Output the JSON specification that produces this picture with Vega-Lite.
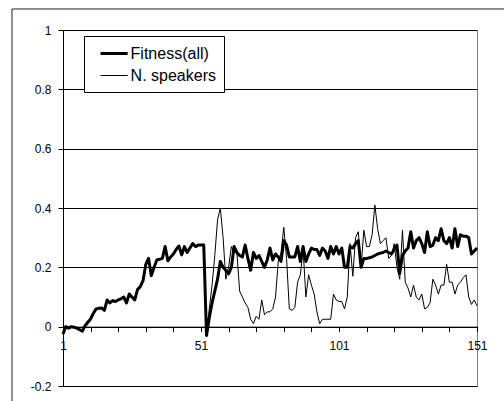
{
  "$schema": "https://vega.github.io/schema/vega-lite/v6.json",
  "width": 414,
  "height": 356,
  "autosize": "none",
  "padding": {"left": 63, "top": 30, "right": 27, "bottom": 15},
  "background": "white",
  "config": {"view": {"stroke": "#808080", "strokeWidth": 1}, "font": "Liberation Sans"},
  "resolve": {"axis": {"x": "independent"}},
  "layer": [
    {
      "data": {"values": [{}]},
      "mark": {"type": "rule", "clip": false, "color": "#222", "strokeWidth": 1},
      "encoding": {
        "y": {"datum": 1.0708, "type": "quantitative", "scale": {"domain": [-0.2, 1], "nice": false, "zero": false}},
        "x": {
          "datum": -17.48, "type": "quantitative",
          "scale": {"domain": [1, 151], "nice": false, "zero": false},
          "axis": {
            "orient": "bottom", "offset": -59.33,
            "values": [11, 21, 31, 41, 61, 71, 81, 91, 111, 121, 131, 141],
            "labels": false, "domain": false, "grid": false,
            "tickSize": 5, "tickColor": "black", "title": null
          }
        },
        "x2": {"datum": 162}
      }
    },
    {
      "data": {"values": [{}]},
      "mark": {"type": "rule", "clip": false, "color": "#222", "strokeWidth": 1},
      "encoding": {
        "x": {"datum": -17.48, "type": "quantitative", "scale": {"domain": [1, 151], "nice": false, "zero": false}, "axis": null},
        "y": {"datum": 1.0708, "type": "quantitative", "scale": {"domain": [-0.2, 1], "nice": false, "zero": false}},
        "y2": {"datum": -0.26}
      }
    },
    {
      "data": {"values": [
        {"g":1,"fit":-0.025,"spk":-0.025},{"g":2,"fit":0,"spk":0},{"g":3,"fit":-0.005,"spk":-0.005},{"g":4,"fit":0,"spk":0},{"g":5,"fit":-0.002,"spk":-0.002},
        {"g":6,"fit":-0.005,"spk":-0.005},{"g":7,"fit":-0.01,"spk":-0.01},{"g":8,"fit":-0.015,"spk":-0.015},{"g":9,"fit":0.003,"spk":0.003},{"g":10,"fit":0.015,"spk":0.015},
        {"g":11,"fit":0.026,"spk":0.026},{"g":12,"fit":0.045,"spk":0.045},{"g":13,"fit":0.06,"spk":0.06},{"g":14,"fit":0.062,"spk":0.062},{"g":15,"fit":0.063,"spk":0.063},
        {"g":16,"fit":0.055,"spk":0.055},{"g":17,"fit":0.09,"spk":0.09},{"g":18,"fit":0.08,"spk":0.08},{"g":19,"fit":0.088,"spk":0.088},{"g":20,"fit":0.085,"spk":0.085},
        {"g":21,"fit":0.09,"spk":0.09},{"g":22,"fit":0.094,"spk":0.094},{"g":23,"fit":0.1,"spk":0.1},{"g":24,"fit":0.08,"spk":0.08},{"g":25,"fit":0.11,"spk":0.11},
        {"g":26,"fit":0.1,"spk":0.1},{"g":27,"fit":0.09,"spk":0.09},{"g":28,"fit":0.125,"spk":0.125},{"g":29,"fit":0.135,"spk":0.135},{"g":30,"fit":0.155,"spk":0.155},
        {"g":31,"fit":0.21,"spk":0.21},{"g":32,"fit":0.23,"spk":0.23},{"g":33,"fit":0.172,"spk":0.172},{"g":34,"fit":0.2,"spk":0.2},{"g":35,"fit":0.225,"spk":0.225},
        {"g":36,"fit":0.227,"spk":0.227},{"g":37,"fit":0.23,"spk":0.23},{"g":38,"fit":0.27,"spk":0.27},{"g":39,"fit":0.222,"spk":0.222},{"g":40,"fit":0.235,"spk":0.235},
        {"g":41,"fit":0.245,"spk":0.245},{"g":42,"fit":0.26,"spk":0.26},{"g":43,"fit":0.272,"spk":0.272},{"g":44,"fit":0.242,"spk":0.242},{"g":45,"fit":0.27,"spk":0.27},
        {"g":46,"fit":0.25,"spk":0.25},{"g":47,"fit":0.265,"spk":0.265},{"g":48,"fit":0.28,"spk":0.28},{"g":49,"fit":0.27,"spk":0.27},{"g":50,"fit":0.275,"spk":0.275},
        {"g":51,"fit":0.275,"spk":0.275},{"g":52,"fit":0.275,"spk":0.275},{"g":53,"fit":-0.03,"spk":-0.03},{"g":54,"fit":0.03,"spk":0.06},{"g":55,"fit":0.08,"spk":0.14},
        {"g":56,"fit":0.12,"spk":0.24},{"g":57,"fit":0.16,"spk":0.36},{"g":58,"fit":0.22,"spk":0.4},{"g":59,"fit":0.2,"spk":0.3},{"g":60,"fit":0.19,"spk":0.16},
        {"g":61,"fit":0.178,"spk":0.2},{"g":62,"fit":0.2,"spk":0.27},{"g":63,"fit":0.27,"spk":0.25},{"g":64,"fit":0.25,"spk":0.25},{"g":65,"fit":0.24,"spk":0.12},
        {"g":66,"fit":0.235,"spk":0.1},{"g":67,"fit":0.275,"spk":0.08},{"g":68,"fit":0.23,"spk":0.065},{"g":69,"fit":0.19,"spk":0.025},{"g":70,"fit":0.25,"spk":0.01},
        {"g":71,"fit":0.23,"spk":0.035},{"g":72,"fit":0.24,"spk":0.025},{"g":73,"fit":0.22,"spk":0.09},{"g":74,"fit":0.2,"spk":0.04},{"g":75,"fit":0.225,"spk":0.05},
        {"g":76,"fit":0.265,"spk":0.05},{"g":77,"fit":0.225,"spk":0.06},{"g":78,"fit":0.245,"spk":0.1},{"g":79,"fit":0.235,"spk":0.22},{"g":80,"fit":0.22,"spk":0.25},
        {"g":81,"fit":0.29,"spk":0.335},{"g":82,"fit":0.275,"spk":0.23},{"g":83,"fit":0.235,"spk":0.06},{"g":84,"fit":0.235,"spk":0.055},{"g":85,"fit":0.235,"spk":0.065},
        {"g":86,"fit":0.27,"spk":0.15},{"g":87,"fit":0.22,"spk":0.175},{"g":88,"fit":0.27,"spk":0.26},{"g":89,"fit":0.22,"spk":0.1},{"g":90,"fit":0.245,"spk":0.175},
        {"g":91,"fit":0.265,"spk":0.14},{"g":92,"fit":0.26,"spk":0.11},{"g":93,"fit":0.26,"spk":0.05},{"g":94,"fit":0.24,"spk":0.01},{"g":95,"fit":0.265,"spk":0.025},
        {"g":96,"fit":0.255,"spk":0.025},{"g":97,"fit":0.23,"spk":0.025},{"g":98,"fit":0.27,"spk":0.025},{"g":99,"fit":0.245,"spk":0.11},{"g":100,"fit":0.27,"spk":0.09},
        {"g":101,"fit":0.245,"spk":0.085},{"g":102,"fit":0.265,"spk":0.085},{"g":103,"fit":0.2,"spk":0.06},{"g":104,"fit":0.2,"spk":0.1},{"g":105,"fit":0.27,"spk":0.28},
        {"g":106,"fit":0.265,"spk":0.17},{"g":107,"fit":0.28,"spk":0.3},{"g":108,"fit":0.29,"spk":0.32},{"g":109,"fit":0.2,"spk":0.2},{"g":110,"fit":0.23,"spk":0.325},
        {"g":111,"fit":0.23,"spk":0.27},{"g":112,"fit":0.232,"spk":0.27},{"g":113,"fit":0.235,"spk":0.31},{"g":114,"fit":0.24,"spk":0.41},{"g":115,"fit":0.245,"spk":0.33},
        {"g":116,"fit":0.248,"spk":0.28},{"g":117,"fit":0.25,"spk":0.29},{"g":118,"fit":0.255,"spk":0.3},{"g":119,"fit":0.25,"spk":0.23},{"g":120,"fit":0.245,"spk":0.24},
        {"g":121,"fit":0.26,"spk":0.28},{"g":122,"fit":0.275,"spk":0.2},{"g":123,"fit":0.18,"spk":0.16},{"g":124,"fit":0.24,"spk":0.325},{"g":125,"fit":0.255,"spk":0.15},
        {"g":126,"fit":0.265,"spk":0.13},{"g":127,"fit":0.32,"spk":0.1},{"g":128,"fit":0.265,"spk":0.14},{"g":129,"fit":0.29,"spk":0.1},{"g":130,"fit":0.3,"spk":0.09},
        {"g":131,"fit":0.28,"spk":0.11},{"g":132,"fit":0.25,"spk":0.06},{"g":133,"fit":0.32,"spk":0.065},{"g":134,"fit":0.27,"spk":0.08},{"g":135,"fit":0.275,"spk":0.16},
        {"g":136,"fit":0.3,"spk":0.14},{"g":137,"fit":0.29,"spk":0.11},{"g":138,"fit":0.33,"spk":0.14},{"g":139,"fit":0.29,"spk":0.14},{"g":140,"fit":0.28,"spk":0.21},
        {"g":141,"fit":0.3,"spk":0.15},{"g":142,"fit":0.265,"spk":0.15},{"g":143,"fit":0.33,"spk":0.11},{"g":144,"fit":0.27,"spk":0.14},{"g":145,"fit":0.31,"spk":0.15},
        {"g":146,"fit":0.305,"spk":0.165},{"g":147,"fit":0.305,"spk":0.175},{"g":148,"fit":0.3,"spk":0.1},{"g":149,"fit":0.245,"spk":0.075},{"g":150,"fit":0.255,"spk":0.09},
        {"g":151,"fit":0.265,"spk":0.07}
      ]},
      "transform": [{"fold": ["fit", "spk"], "as": ["series", "value"]}],
      "mark": {"type": "line", "color": "black", "strokeJoin": "round"},
      "encoding": {
        "x": {
          "field": "g", "type": "quantitative",
          "scale": {"domain": [1, 151], "nice": false, "zero": false},
          "axis": {
            "orient": "bottom", "offset": -59.33,
            "values": [1, 51, 101, 151],
            "tickSize": 5, "tickColor": "black", "domainColor": "black", "grid": false,
            "labelFont": "Liberation Sans", "labelFontSize": 12, "labelColor": "black",
            "labelPadding": 9, "labelFlush": false, "labelOverlap": false, "title": null
          }
        },
        "y": {
          "field": "value", "type": "quantitative",
          "scale": {"domain": [-0.2, 1], "nice": false, "zero": false},
          "axis": {
            "values": [-0.2, 0, 0.2, 0.4, 0.6, 0.8, 1],
            "labelExpr": "toString(round(datum.value * 10) / 10)",
            "tickSize": 5, "tickColor": "black", "domainColor": "black",
            "grid": true, "gridColor": "black", "gridOpacity": 1, "gridWidth": 1,
            "labelFont": "Liberation Sans", "labelFontSize": 12, "labelColor": "black",
            "labelPadding": 7, "title": null
          }
        },
        "strokeWidth": {
          "field": "series", "type": "ordinal",
          "scale": {"domain": ["fit", "spk"], "range": [3, 1]},
          "legend": {
            "title": null, "orient": "none", "legendX": 21, "legendY": 6,
            "strokeColor": "black", "fillColor": "white", "padding": 8,
            "symbolType": "M-1.7,0L1.7,0", "symbolSize": 256, "symbolOffset": 12.6,
            "symbolStrokeColor": "black", "symbolFillColor": "transparent",
            "labelFont": "Liberation Sans", "labelFontSize": 16, "labelColor": "black",
            "labelOffset": 7, "rowPadding": 5,
            "labelExpr": "datum.label == 'fit' ? 'Fitness(all)' : 'N. speakers'"
          }
        }
      }
    }
  ]
}
